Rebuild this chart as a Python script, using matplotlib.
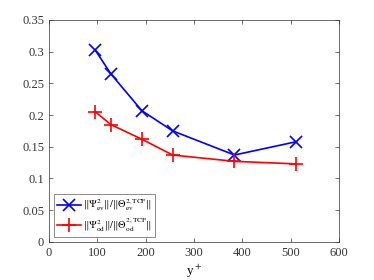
import matplotlib
matplotlib.use('Agg')
import matplotlib.pyplot as plt

plt.rcParams['font.family'] = ['Liberation Serif', 'DejaVu Serif']
plt.rcParams['mathtext.fontset'] = 'stix'

# y+ positions and the two norm ratios
y_plus = [96, 128, 192, 256, 384, 512]
ratio_ev = [0.302, 0.265, 0.207, 0.175, 0.137, 0.158]
ratio_od = [0.205, 0.185, 0.162, 0.137, 0.127, 0.123]

label_ev = r'$\|\Psi^2_{\rm ev}\|/\|\Theta^{2,\rm TCF}_{\rm ev}\|$'
label_od = r'$\|\Psi^2_{\rm od}\|/\|\Theta^{2,\rm TCF}_{\rm od}\|$'

fig = plt.figure(figsize=(3.74, 2.80), dpi=100)
ax = fig.add_axes([0.131, 0.136, 0.775, 0.793])

ax.plot(y_plus, ratio_ev, color='blue', marker='x', markersize=8, lw=1.2,
        mew=1.2, label=label_ev)
ax.plot(y_plus, ratio_od, color='red', marker='+', markersize=10, lw=1.2,
        mew=1.2, label=label_od)

ax.set_xlim(0, 600)
ax.set_ylim(0, 0.35)
ax.set_xticks([0, 100, 200, 300, 400, 500, 600])
ax.set_yticks([0, 0.05, 0.1, 0.15, 0.2, 0.25, 0.3, 0.35])
ax.set_yticklabels(['0', '0.05', '0.1', '0.15', '0.2', '0.25', '0.3', '0.35'])
ax.tick_params(direction='in', length=3, width=0.5, colors='#333333',
               labelsize=9, top=True, right=True)
ax.tick_params(labeltop=False, labelright=False)
for s in ax.spines.values():
    s.set_linewidth(0.5)
    s.set_color('#333333')
ax.set_xlabel(r'y$^+$', fontsize=9.5, labelpad=3)

leg = ax.legend(loc='lower left', fontsize=7.5, fancybox=False,
                handlelength=2.3, handletextpad=0.2, borderpad=0.3,
                labelspacing=0.3, borderaxespad=0.5)
leg.get_frame().set_edgecolor('#333333')
leg.get_frame().set_linewidth(0.5)

fig.savefig('out.png', dpi=100)
